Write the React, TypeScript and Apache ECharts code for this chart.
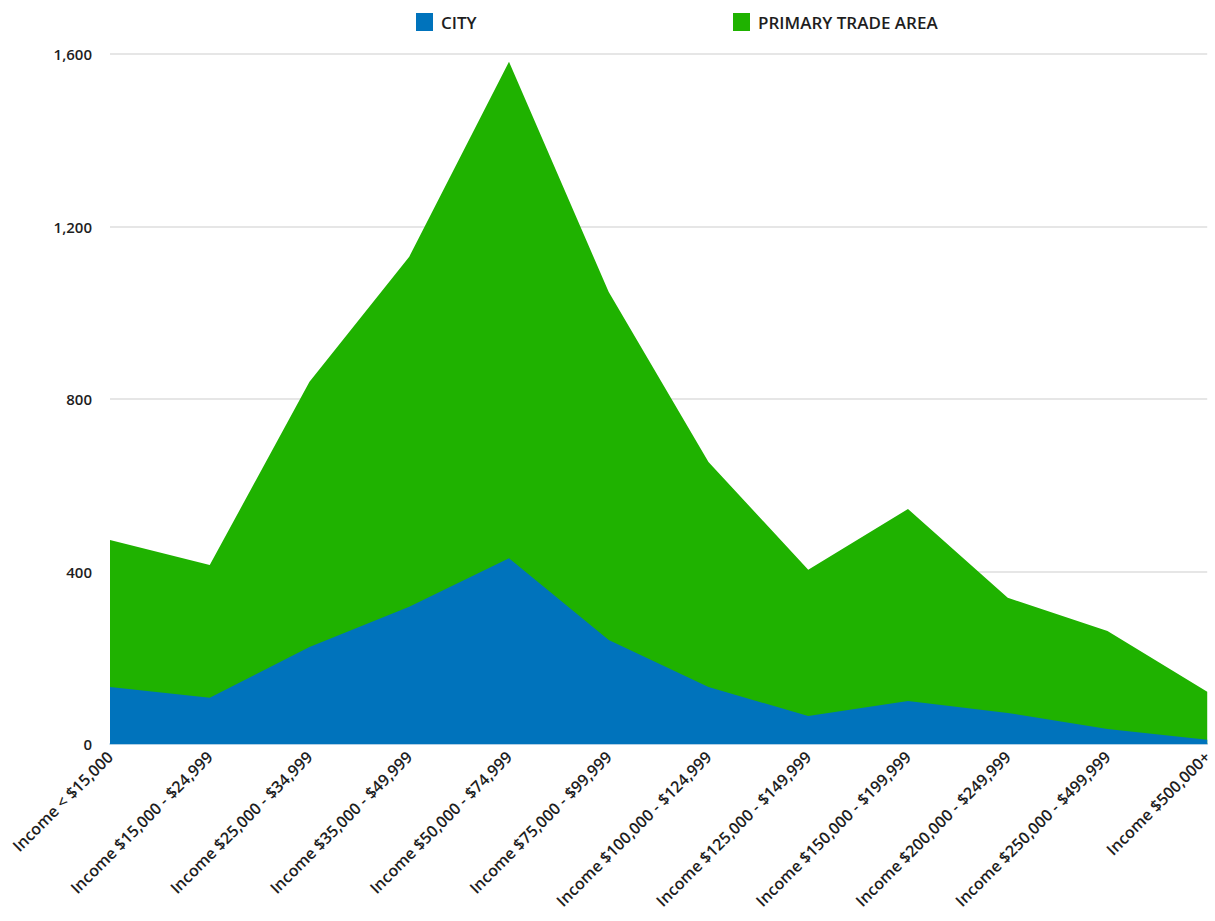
import React, { useEffect, useRef } from "react";
import * as echarts from "echarts";

const categories = [
  "Income < $15,000",
  "Income $15,000 - $24,999",
  "Income $25,000 - $34,999",
  "Income $35,000 - $49,999",
  "Income $50,000 - $74,999",
  "Income $75,000 - $99,999",
  "Income $100,000 - $124,999",
  "Income $125,000 - $149,999",
  "Income $150,000 - $199,999",
  "Income $200,000 - $249,999",
  "Income $250,000 - $499,999",
  "Income $500,000+",
];

const cityValues = [132, 107, 225, 318, 431, 241, 132, 65, 100, 72, 35, 10];
const tradeAreaValues = [473, 415, 840, 1130, 1582, 1048, 654, 404, 545, 339, 262, 121];

const yTicks = [0, 400, 800, 1200, 1600];

const FONT = "'Open Sans', 'Noto Sans', sans-serif";
const BLUE = "#0073bc";
const GREEN = "#1fb200";
const TEXT = "#1e1e1e";

const legendText = {
  fontFamily: FONT,
  fontSize: 17,
  fontWeight: 600,
  color: TEXT,
  padding: [0, 0, 0, 3],
};

export default function App() {
  const ref = useRef<HTMLDivElement>(null);

  useEffect(() => {
    document.body.style.margin = "0";
    if (!ref.current) return;
    const chart = echarts.init(ref.current, null, { renderer: "svg" });
    chart.setOption({
      animation: false,
      backgroundColor: "#ffffff",
      legend: [
        {
          top: 8,
          left: 411,
          itemWidth: 17,
          itemHeight: 18,
          icon: "rect",
          textStyle: legendText,
          data: [{ name: "CITY", itemStyle: { color: BLUE } }],
        },
        {
          top: 8,
          left: 728,
          itemWidth: 17,
          itemHeight: 18,
          icon: "rect",
          textStyle: legendText,
          data: [{ name: "PRIMARY TRADE AREA", itemStyle: { color: GREEN } }],
        },
      ],
      grid: { left: 110, right: 5, top: 54, bottom: 177, containLabel: false },
      xAxis: {
        type: "category",
        data: categories,
        boundaryGap: false,
        axisTick: { show: false },
        axisLine: { show: true, lineStyle: { color: "#9cc6e4", width: 1.5 } },
        axisLabel: {
          rotate: 45,
          margin: 10,
          interval: 0,
          fontFamily: FONT,
          fontSize: 16,
          fontWeight: 600,
          color: TEXT,
        },
      },
      yAxis: {
        type: "value",
        min: yTicks[0],
        max: yTicks[yTicks.length - 1],
        interval: 400,
        axisLine: { show: false },
        axisTick: { show: false },
        splitLine: { lineStyle: { color: "#dedede", width: 1.5 } },
        axisLabel: {
          margin: 18,
          fontFamily: FONT,
          fontSize: 15,
          fontWeight: 600,
          color: TEXT,
          formatter: (v: number) => v.toLocaleString("en-US"),
        },
      },
      series: [
        {
          name: "PRIMARY TRADE AREA",
          type: "line",
          data: tradeAreaValues,
          symbol: "none",
          lineStyle: { width: 0 },
          itemStyle: { color: GREEN },
          areaStyle: { color: GREEN, opacity: 1 },
          z: 2,
        },
        {
          name: "CITY",
          type: "line",
          data: cityValues,
          symbol: "none",
          lineStyle: { width: 0 },
          itemStyle: { color: BLUE },
          areaStyle: { color: BLUE, opacity: 1 },
          z: 3,
        },
      ],
    });
    return () => chart.dispose();
  }, []);

  return <div ref={ref} style={{ width: 1215, height: 921 }} />;
}
